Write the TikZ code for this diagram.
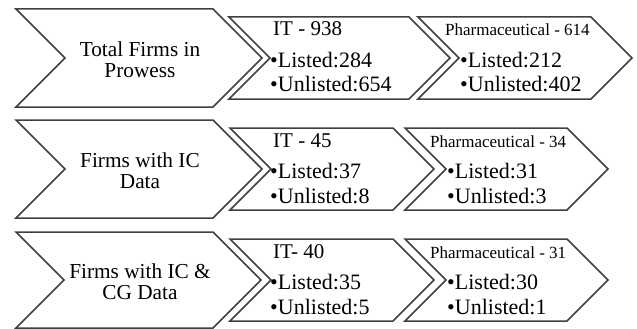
\documentclass[tikz,border=0pt]{standalone}
\usepackage{fontspec}
\setmainfont{Liberation Serif}
\tikzset{
  chev/.style={draw=black!75, fill=white, line width=1.5pt, line join=miter},
  bigtxt/.style={font=\fontsize{21.3}{21}\selectfont, align=center, inner sep=0pt},
  hdr/.style={font=\fontsize{21}{24}\selectfont, anchor=base west, inner sep=0pt},
  phdr/.style={font=\fontsize{17}{20}\selectfont, anchor=base west, inner sep=0pt},
  bul/.style={font=\fontsize{22}{24}\selectfont, anchor=base west, inner sep=0pt},
}
\newcommand\chevshape[4]{%
  \draw[chev] (#1,#3-#4) -- (#2,#3-#4) -- (#2+#4,#3) -- (#2,#3+#4) -- (#1,#3+#4) -- (#1+#4,#3) -- cycle;}
\begin{document}
\begin{tikzpicture}[x=1pt,y=-1pt]
\useasboundingbox (0,0) rectangle (637,329);
\fill[white] (0,0) rectangle (637,329);
% row 1
\chevshape{16}{213}{58}{49}
\chevshape{229}{409}{58}{41}
\chevshape{418}{591}{58}{41}
\node[bigtxt] (t1) at (140,60) {Total Firms in\\Prowess};
\node[hdr] (it1h) at (273,36) {IT - 938};
\node[bul] (it1a) at (270,67) {•Listed:284};
\node[bul] (it1b) at (270,92) {•Unlisted:654};
\node[phdr] (ph1h) at (445,36) {Pharmaceutical - 614};
\node[bul] (ph1a) at (460,67) {•Listed:212};
\node[bul] (ph1b) at (460,92) {•Unlisted:402};
% row 2
\chevshape{16}{213}{169}{49}
\chevshape{230}{393}{169}{41}
\chevshape{405}{567}{169}{41}
\node[bigtxt] (t2) at (140,171) {Firms with IC\\Data};
\node[hdr] (it2h) at (273,147) {IT - 45};
\node[bul] (it2a) at (270,178) {•Listed:37};
\node[bul] (it2b) at (270,203) {•Unlisted:8};
\node[phdr] (ph2h) at (430,147) {Pharmaceutical - 34};
\node[bul] (ph2a) at (447,178) {•Listed:31};
\node[bul] (ph2b) at (447,203) {•Unlisted:3};
% row 3
\chevshape{16}{213}{280}{48}
\chevshape{230}{393}{280}{41}
\chevshape{405}{567}{280}{41}
\node[bigtxt] (t3) at (140,282) {Firms with IC \&\\CG Data};
\node[hdr] (it3h) at (273,258) {IT- 40};
\node[bul] (it3a) at (270,289) {•Listed:35};
\node[bul] (it3b) at (270,314) {•Unlisted:5};
\node[phdr] (ph3h) at (430,258) {Pharmaceutical - 31};
\node[bul] (ph3a) at (447,289) {•Listed:30};
\node[bul] (ph3b) at (447,314) {•Unlisted:1};
\end{tikzpicture}
\end{document}
